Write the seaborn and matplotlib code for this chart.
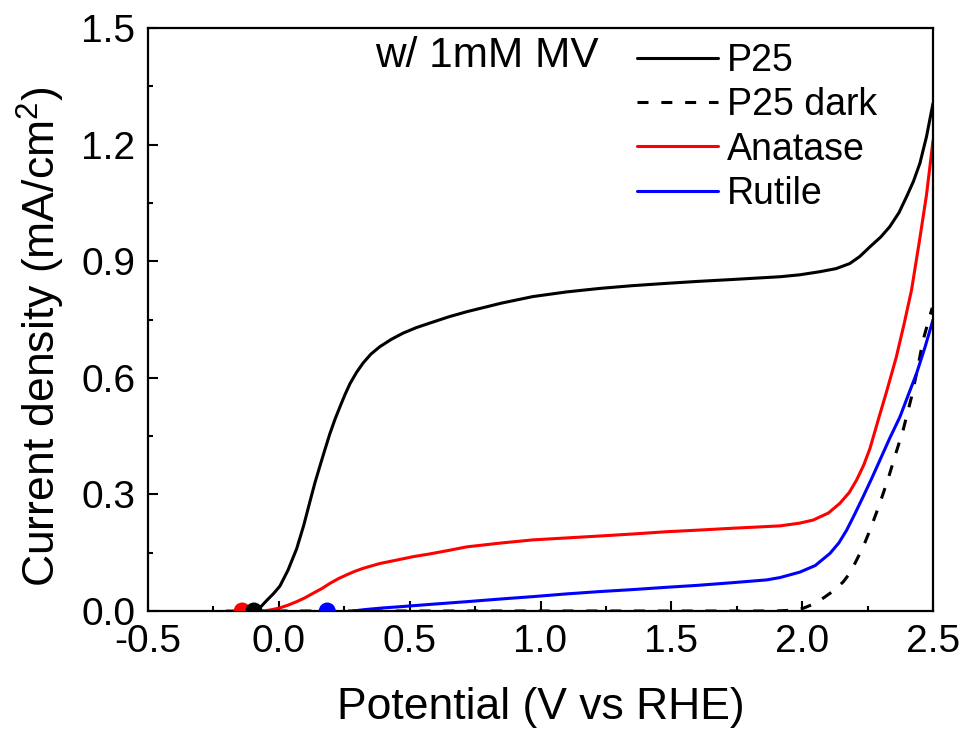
import numpy as np
import pandas as pd
import matplotlib
matplotlib.use("Agg")
import matplotlib.pyplot as plt
import seaborn as sns

# ---- data ----
p25_v = [-0.15, -0.091, -0.07, -0.045, -0.02, 0.004, 0.035, 0.068, 0.095, 0.119, 0.138, 0.157, 0.176,
         0.195, 0.215, 0.234, 0.253, 0.272, 0.297, 0.322, 0.352, 0.386, 0.43, 0.475, 0.525, 0.578, 0.65,
         0.718, 0.85, 0.971, 1.10, 1.227, 1.35, 1.482, 1.60, 1.736, 1.915, 1.991, 2.068, 2.13, 2.182,
         2.22, 2.259, 2.30, 2.335, 2.37, 2.399, 2.425, 2.450, 2.475, 2.50]
p25_j = [0.0, 0.0, 0.010, 0.028, 0.045, 0.064, 0.105, 0.160, 0.220, 0.282, 0.330, 0.373, 0.415,
         0.456, 0.494, 0.526, 0.557, 0.585, 0.614, 0.638, 0.661, 0.680, 0.699, 0.715, 0.729, 0.741, 0.757,
         0.770, 0.792, 0.809, 0.821, 0.830, 0.837, 0.843, 0.848, 0.853, 0.860, 0.865, 0.873, 0.881, 0.894,
         0.912, 0.937, 0.962, 0.989, 1.025, 1.066, 1.105, 1.152, 1.220, 1.306]

dark_v = [-0.1, 1.90, 1.96, 2.004, 2.04, 2.080, 2.12, 2.157, 2.185, 2.208, 2.235, 2.259, 2.285, 2.310,
          2.333, 2.354, 2.386, 2.418, 2.44, 2.462, 2.497]
dark_j = [0.0, 0.0, 0.002, 0.007, 0.017, 0.033, 0.052, 0.075, 0.100, 0.131, 0.168, 0.208, 0.255, 0.303,
          0.350, 0.397, 0.466, 0.551, 0.620, 0.697, 0.780]

ana_v = [-0.2, -0.06, -0.03, 0.004, 0.035, 0.068, 0.10, 0.132, 0.165, 0.195, 0.227, 0.259, 0.29, 0.323,
         0.385, 0.450, 0.515, 0.578, 0.65, 0.718, 0.85, 0.971, 1.10, 1.227, 1.35, 1.482, 1.60, 1.736,
         1.915, 1.99, 2.042, 2.10, 2.144, 2.18, 2.208, 2.235, 2.259, 2.29, 2.325, 2.36, 2.39,
         2.418, 2.45, 2.475, 2.50]
ana_j = [0.0, 0.0, 0.003, 0.008, 0.015, 0.024, 0.034, 0.046, 0.058, 0.071, 0.083, 0.093, 0.102, 0.110,
         0.122, 0.131, 0.140, 0.147, 0.156, 0.165, 0.175, 0.183, 0.188, 0.193, 0.198, 0.204, 0.208, 0.213,
         0.219, 0.226, 0.234, 0.252, 0.277, 0.305, 0.337, 0.375, 0.418, 0.490, 0.570, 0.654, 0.740,
         0.826, 0.960, 1.070, 1.210]

rut_v = [0.283, 0.32, 0.35, 0.40, 0.463, 0.578, 0.718, 0.85, 0.971, 1.10, 1.227, 1.35, 1.482, 1.60,
         1.736, 1.864, 1.915, 1.991, 2.05, 2.106, 2.14, 2.170, 2.20, 2.233, 2.265, 2.297, 2.335, 2.374,
         2.405, 2.437, 2.47, 2.50]
rut_j = [0.0, 0.003, 0.005, 0.008, 0.011, 0.017, 0.024, 0.031, 0.037, 0.044, 0.050, 0.055, 0.061, 0.066,
         0.073, 0.080, 0.086, 0.100, 0.117, 0.148, 0.175, 0.208, 0.248, 0.294, 0.340, 0.388, 0.445, 0.500,
         0.555, 0.611, 0.680, 0.749]

onset_v = [-0.14, -0.095, 0.185]
onset_j = [0.0, 0.0, 0.0]
onset_colors = ["#ff0000", "#000000", "#0000ff"]

series_names = ["P25", "P25 dark", "Anatase", "Rutile"]
x_ticks = [-0.5, 0.0, 0.5, 1.0, 1.5, 2.0, 2.5]
y_ticks = [0.0, 0.3, 0.6, 0.9, 1.2, 1.5]

# ---- style ----
sns.set_style("ticks")
plt.rcParams["font.family"] = ["Liberation Sans", "DejaVu Sans"]
plt.rcParams["mathtext.fontset"] = "custom"
plt.rcParams["mathtext.rm"] = "Liberation Sans"
plt.rcParams["axes.unicode_minus"] = False
plt.rcParams["text.color"] = "#000000"
plt.rcParams["axes.labelcolor"] = "#000000"
plt.rcParams["xtick.color"] = "#000000"
plt.rcParams["ytick.color"] = "#000000"

fig = plt.figure(figsize=(9.67, 7.30), dpi=100)
ax = fig.add_axes([148 / 967, 119 / 730, 785 / 967, 583 / 730])

lw = 2.2
sns.lineplot(x=p25_v, y=p25_j, ax=ax, color="#000000", lw=lw, label=series_names[0],
             sort=False, estimator=None)
sns.lineplot(x=dark_v, y=dark_j, ax=ax, color="#000000", lw=lw, label=series_names[1],
             sort=False, estimator=None, linestyle=(0, (3.6, 4.2)))
sns.lineplot(x=ana_v, y=ana_j, ax=ax, color="#ff0000", lw=lw, label=series_names[2],
             sort=False, estimator=None)
sns.lineplot(x=rut_v, y=rut_j, ax=ax, color="#0000ff", lw=lw, label=series_names[3],
             sort=False, estimator=None)

onset_df = pd.DataFrame({"v": onset_v, "j": onset_j, "c": onset_colors})
for i, row in onset_df.iterrows():
    sns.scatterplot(x=[row.v], y=[row.j], ax=ax, color=row.c, s=150, edgecolor="none",
                    zorder=5 + (1 if row.c == "#000000" else 0), legend=False)

ax.set_xlim(-0.5, 2.5)
ax.set_ylim(0.0, 1.5)
ax.set_xticks(x_ticks)
ax.set_xticklabels([f"{t:.1f}" for t in x_ticks])
ax.set_yticks(y_ticks)
ax.set_yticklabels([f"{t:.1f}" for t in y_ticks])
ax.set_xticks(np.arange(-0.25, 2.5, 0.5), minor=True)
ax.set_yticks(np.arange(0.15, 1.5, 0.3), minor=True)

for s in ax.spines.values():
    s.set_linewidth(1.6)
    s.set_color("#000000")
ax.tick_params(axis="both", which="major", direction="in", length=7, width=1.5,
               labelsize=28, colors="#000000")
ax.tick_params(axis="x", which="major", pad=9.5)
ax.tick_params(axis="y", which="major", pad=9)
ax.tick_params(axis="both", which="minor", direction="in", length=3.5, width=1.5)

ax.set_xlabel("Potential (V vs RHE)", fontsize=32, labelpad=19, color="#000000")
ax.set_ylabel(r"Current density (mA/cm$^\mathregular{2}$)", fontsize=32, color="#000000")
ax.yaxis.set_label_coords(-0.103, 0.47)

ax.text((375 - 148) / 785, (611 - 56) / 583, "w/ 1mM MV", transform=ax.transAxes,
        fontsize=30.5, va="center", ha="left", color="#000000")

leg = ax.legend(loc="upper left", bbox_to_anchor=((637 - 148) / 785, (611 - 43) / 583),
                frameon=False, fontsize=27, handlelength=2.16, handletextpad=0.24,
                labelspacing=0.22, borderpad=0, borderaxespad=0)
for t in leg.get_texts():
    t.set_color("#000000")

fig.savefig("out.png", dpi=100)
